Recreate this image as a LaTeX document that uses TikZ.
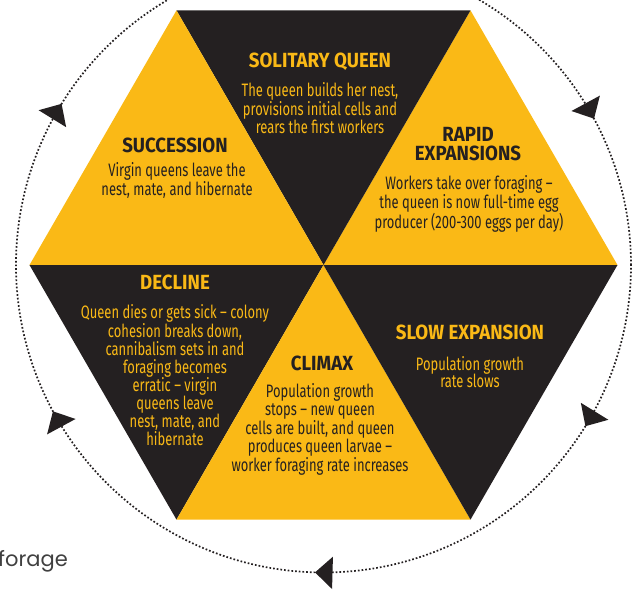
\documentclass[tikz,border=0pt]{standalone}
\usepackage{fontspec}
\usepackage{tikz}
\usetikzlibrary{arrows.meta,decorations.markings,positioning,calc}
\newfontfamily\bodyfont{Fira Sans}[FakeStretch=0.72]
\newfontfamily\headfont{Fira Sans}[FakeStretch=0.91]
\newfontfamily\pagefont{Poppins}
\definecolor{beeyellow}{RGB}{250,185,22}
\definecolor{beedark}{RGB}{36,32,33}
\tikzstyle{stagetitle}=[inner sep=0pt, align=center, font=\headfont\bfseries\fontsize{20.5}{19}\selectfont]
\tikzstyle{stagetext}=[inner sep=0pt, align=center, font=\bodyfont\fontsize{18}{17.8}\selectfont]
\tikzstyle{dotring}=[beedark, line width=1.7pt, dash pattern=on 1.7pt off 2pt]
\tikzset{ringtip/.tip={Triangle[length=17.5pt, width=32pt]}}

\begin{document}
\begin{tikzpicture}[x=1pt, y=1pt]
				\useasboundingbox (-323.5,-325) rectangle (319.5,265);
				\coordinate (O) at (0,0);
				\foreach \i in {0,...,5}
					\coordinate (V\i) at (\i*60:294);
				
				% hexagon
				\fill[beeyellow] (O)--(V0)--(V1)--cycle;
				\fill[beedark] (O)--(V1)--(V2)--cycle;
				\fill[beeyellow] (O)--(V2)--(V3)--cycle;
				\fill[beedark] (O)--(V3)--(V4)--cycle;
				\fill[beeyellow] (O)--(V4)--(V5)--cycle;
				\fill[beedark] (O)--(V5)--(V0)--cycle;
				
				% cycle ring
				\draw[dotring, postaction={decorate}, decoration={markings,
					mark=at position 0.0789 with {\arrowreversed{ringtip}},
					mark=at position 0.4122 with {\arrowreversed{ringtip}},
					mark=at position 0.5789 with {\arrowreversed{ringtip}},
					mark=at position 0.7456 with {\arrowreversed{ringtip}},
					mark=at position 0.9122 with {\arrowreversed{ringtip}}}]
					(O) circle[radius=307.5];
				
				\node[stagetitle, text=beeyellow] (soltitle) at (-3.5,203) {SOLITARY QUEEN};
				\node[stagetext, text=beeyellow] (soltext) at (-3.5,157) {The queen builds her nest,\\provisions initial cells and\\rears the first workers};
				\node[stagetitle, text=beedark] (suctitle) at (-148.5,120) {SUCCESSION};
				\node[stagetext, text=beedark] (suctext) at (-146.5,84.5) {Virgin queens leave the\\nest, mate, and hibernate};
				\node[stagetitle, text=beedark] (raptitle) at (144.5,121) {RAPID\\EXPANSIONS};
				\node[stagetext, text=beedark] (raptext) at (145.5,61.5) {Workers take over foraging –\\the queen is now full-time egg\\producer (200-300 eggs per day)};
				\node[stagetitle, text=beeyellow] (dectitle) at (-148.5,-17) {DECLINE};
				\node[stagetext, text=beeyellow] (dectext) at (-148.5,-110) {Queen dies or gets sick – colony\\cohesion breaks down,\\cannibalism sets in and\\foraging becomes\\erratic – virgin\\queens leave\\nest, mate, and\\hibernate};
				\node[stagetitle, text=beedark] (clititle) at (-1.5,-98) {CLIMAX};
				\node[stagetext, text=beedark] (clitext) at (-3.5,-164.5) {Population growth\\stops – new queen\\cells are built, and queen\\produces queen larvae –\\worker foraging rate increases};
				\node[stagetitle, text=beeyellow] (slotitle) at (146.5,-67) {SLOW EXPANSION};
				\node[stagetext, text=beeyellow] (slotext) at (146.5,-107) {Population growth\\rate slows};
				
				\node[anchor=base east, inner sep=0pt, text=black!75, font=\pagefont\fontsize{21}{21}\selectfont] (forage) at (-255.5,-301.7) {forage};
			\end{tikzpicture}
\end{document}
